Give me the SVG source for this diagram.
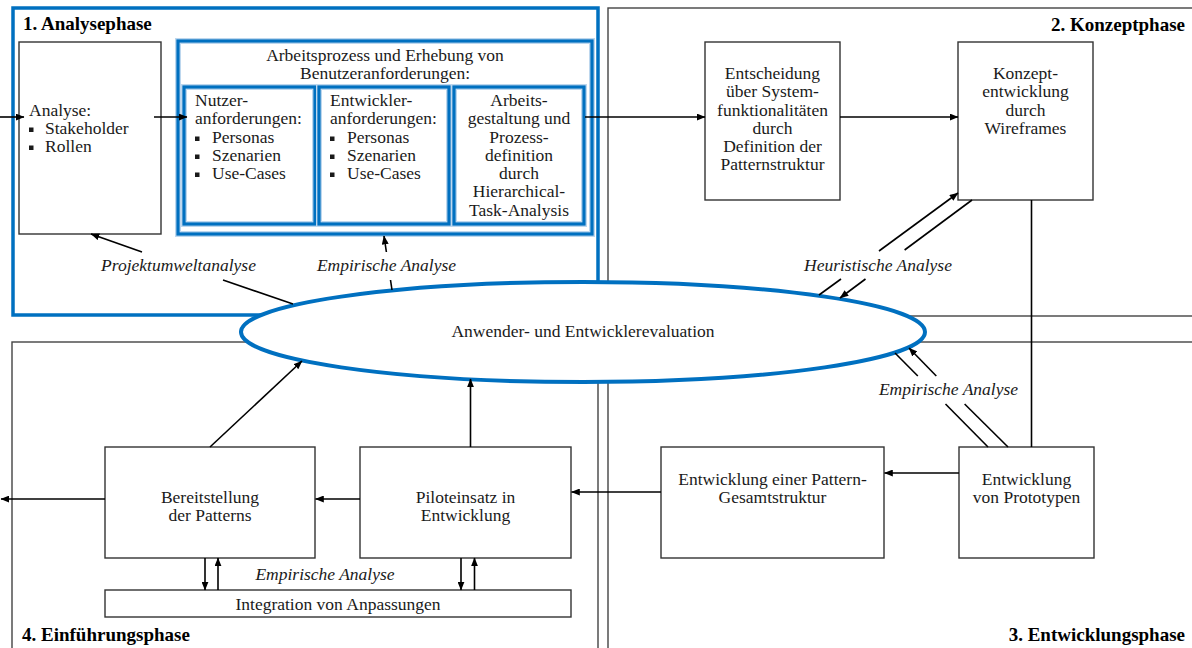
<svg xmlns="http://www.w3.org/2000/svg" width="1192" height="648" viewBox="0 0 1192 648" font-family="'Liberation Serif', 'Times New Roman', serif">
<style>
text{font-family:'Liberation Serif','Times New Roman',serif;font-size:17.5px;fill:#1a1a1a}
.c{text-anchor:middle}
.r{text-anchor:end}
.ph{font-weight:bold;font-size:19px;fill:#000}
.it{font-style:italic}
.box{fill:#fff;stroke:#333;stroke-width:1.4}
.frame{fill:none;stroke:#444;stroke-width:1.4}
.bframe{fill:none;stroke:#0070C0;stroke-width:3.5}
.halo{fill:none;stroke:#BDD7EE;stroke-width:6}
.bbox{fill:none;stroke:#0070C0;stroke-width:3.2}
.ln{stroke:#000;stroke-width:1.6;fill:none}
.arr{stroke:#000;stroke-width:1.6;fill:none;marker-end:url(#ah)}
.bul{fill:#1a1a1a}
</style>
<defs>
<marker id="ah" viewBox="0 0 10 8" refX="9.5" refY="4" markerWidth="9" markerHeight="7" orient="auto" markerUnits="userSpaceOnUse"><path d="M0,0 L10,4 L0,8 z" fill="#000"/></marker>
</defs>
<rect width="1192" height="648" fill="#fff"/>

<g id="phases">
<rect class="frame" x="608" y="8" width="600" height="308"/>
<rect class="frame" x="608" y="342" width="600" height="320"/>
<rect class="frame" x="12" y="342" width="586" height="320"/>
<rect class="bframe" x="13" y="8" width="585" height="307"/>
<text class="ph" x="23" y="30">1. Analysephase</text>
<text class="ph r" x="1185" y="31">2. Konzeptphase</text>
<text class="ph r" x="1185" y="641">3. Entwicklungsphase</text>
<text class="ph" x="22" y="641">4. Einführungsphase</text>
</g>

<g id="analyse">
<rect class="box" x="19" y="42" width="142" height="192"/>
<text x="29" y="116">Analyse:</text>
<rect class="bul" x="29" y="127.5" width="4.5" height="4.5"/>
<text x="45" y="134">Stakeholder</text>
<rect class="bul" x="29" y="145.5" width="4.5" height="4.5"/>
<text x="45" y="152">Rollen</text>
</g>

<g id="arbeitsprozess">
<rect class="halo" x="178" y="41" width="414" height="193"/>
<rect class="bbox" x="178" y="41" width="414" height="193"/>
<text class="c" x="385" y="61">Arbeitsprozess und Erhebung von</text>
<text class="c" x="385" y="79">Benutzeranforderungen:</text>
</g>

<g id="nutzer">
<rect class="halo" x="184" y="87" width="131" height="137"/>
<rect class="bbox" x="184" y="87" width="131" height="137"/>
<text x="195" y="106">Nutzer-</text>
<text x="195" y="124">anforderungen:</text>
<rect class="bul" x="195" y="136.5" width="4.5" height="4.5"/>
<text x="212" y="143">Personas</text>
<rect class="bul" x="195" y="154.5" width="4.5" height="4.5"/>
<text x="212" y="161">Szenarien</text>
<rect class="bul" x="195" y="172.5" width="4.5" height="4.5"/>
<text x="212" y="179">Use-Cases</text>
</g>

<g id="entwickler">
<rect class="halo" x="319" y="87" width="130" height="137"/>
<rect class="bbox" x="319" y="87" width="130" height="137"/>
<text x="330" y="106">Entwickler-</text>
<text x="330" y="124">anforderungen:</text>
<rect class="bul" x="330" y="136.5" width="4.5" height="4.5"/>
<text x="347" y="143">Personas</text>
<rect class="bul" x="330" y="154.5" width="4.5" height="4.5"/>
<text x="347" y="161">Szenarien</text>
<rect class="bul" x="330" y="172.5" width="4.5" height="4.5"/>
<text x="347" y="179">Use-Cases</text>
</g>

<g id="arbeitsgestaltung">
<rect class="halo" x="454" y="87" width="130" height="137"/>
<rect class="bbox" x="454" y="87" width="130" height="137"/>
<text class="c" x="519" y="106">Arbeits-</text>
<text class="c" x="519" y="124">gestaltung und</text>
<text class="c" x="519" y="143">Prozess-</text>
<text class="c" x="519" y="161">definition</text>
<text class="c" x="519" y="179">durch</text>
<text class="c" x="519" y="197">Hierarchical-</text>
<text class="c" x="519" y="216">Task-Analysis</text>
</g>

<g id="entscheidung">
<rect class="box" x="705" y="42" width="135" height="158"/>
<text class="c" x="772.5" y="79">Entscheidung</text>
<text class="c" x="772.5" y="97">über System-</text>
<text class="c" x="772.5" y="115.5">funktionalitäten</text>
<text class="c" x="772.5" y="134">durch</text>
<text class="c" x="772.5" y="152">Definition der</text>
<text class="c" x="772.5" y="170">Patternstruktur</text>
</g>

<g id="konzept">
<rect class="box" x="958" y="42" width="135" height="158"/>
<text class="c" x="1025.5" y="79">Konzept-</text>
<text class="c" x="1025.5" y="97">entwicklung</text>
<text class="c" x="1025.5" y="115.5">durch</text>
<text class="c" x="1025.5" y="134">Wireframes</text>
</g>

<g id="prototypen">
<rect class="box" x="959" y="447" width="135" height="111"/>
<text class="c" x="1026.5" y="485">Entwicklung</text>
<text class="c" x="1026.5" y="503">von Prototypen</text>
</g>

<g id="gesamtstruktur">
<rect class="box" x="661" y="447" width="223" height="111"/>
<text class="c" x="772.5" y="485">Entwicklung einer Pattern-</text>
<text class="c" x="772.5" y="503">Gesamtstruktur</text>
</g>

<g id="piloteinsatz">
<rect class="box" x="360" y="447" width="211" height="111"/>
<text class="c" x="465.5" y="503">Piloteinsatz in</text>
<text class="c" x="465.5" y="521">Entwicklung</text>
</g>

<g id="bereitstellung">
<rect class="box" x="105" y="447" width="210" height="111"/>
<text class="c" x="210" y="503">Bereitstellung</text>
<text class="c" x="210" y="521">der Patterns</text>
</g>

<g id="integration">
<rect class="box" x="105" y="590" width="466" height="27"/>
<text class="c" x="338" y="610">Integration von Anpassungen</text>
</g>

<g id="evaluation">
<ellipse cx="583" cy="332" rx="342" ry="50" fill="#fff" stroke="#0070C0" stroke-width="4"/>
<text class="c" x="583" y="337">Anwender- und Entwicklerevaluation</text>
</g>

<g id="connectors">
<line class="arr" x1="0" y1="117" x2="24" y2="117"/>
<line class="arr" x1="154" y1="117" x2="187" y2="117"/>
<line class="arr" x1="585" y1="117" x2="705" y2="117"/>
<line class="arr" x1="840" y1="117" x2="958" y2="117"/>
<line class="ln" x1="1031.5" y1="200" x2="1031.5" y2="447"/>
<line class="ln" x1="819" y1="295" x2="841" y2="279"/>
<line class="arr" x1="879" y1="251" x2="958" y2="193"/>
<line class="ln" x1="972" y1="200" x2="904.6" y2="250"/>
<line class="arr" x1="865.5" y1="279" x2="840" y2="298"/>
<line class="ln" x1="988" y1="447" x2="945.5" y2="404"/>
<line class="ln" x1="917.8" y1="376" x2="895" y2="353"/>
<line class="ln" x1="1008" y1="447" x2="964.6" y2="404"/>
<line class="arr" x1="936.3" y1="376" x2="909" y2="348"/>
<line class="ln" x1="293" y1="304" x2="223" y2="280"/>
<line class="arr" x1="142" y1="252" x2="91" y2="234"/>
<line class="ln" x1="392" y1="290" x2="390.5" y2="280"/>
<line class="arr" x1="386.4" y1="252" x2="384" y2="236"/>
<line class="arr" x1="959" y1="473" x2="884.5" y2="473"/>
<line class="arr" x1="661" y1="492" x2="571.5" y2="492"/>
<line class="arr" x1="360" y1="499" x2="315.5" y2="499"/>
<line class="arr" x1="105" y1="499" x2="1" y2="499"/>
<line class="arr" x1="210" y1="447" x2="302" y2="361"/>
<line class="arr" x1="470.5" y1="447" x2="470.5" y2="379"/>
<line class="arr" x1="205" y1="558" x2="205" y2="590"/>
<line class="arr" x1="218" y1="590" x2="218" y2="558"/>
<line class="arr" x1="461" y1="558" x2="461" y2="590"/>
<line class="arr" x1="474.5" y1="590" x2="474.5" y2="558"/>
</g>

<g id="labels">
<text class="it c" x="178.5" y="271">Projektumweltanalyse</text>
<text class="it c" x="386.5" y="271">Empirische Analyse</text>
<text class="it c" x="878" y="271">Heuristische Analyse</text>
<text class="it c" x="948.5" y="395">Empirische Analyse</text>
<text class="it c" x="325" y="580">Empirische Analyse</text>
</g>
</svg>
